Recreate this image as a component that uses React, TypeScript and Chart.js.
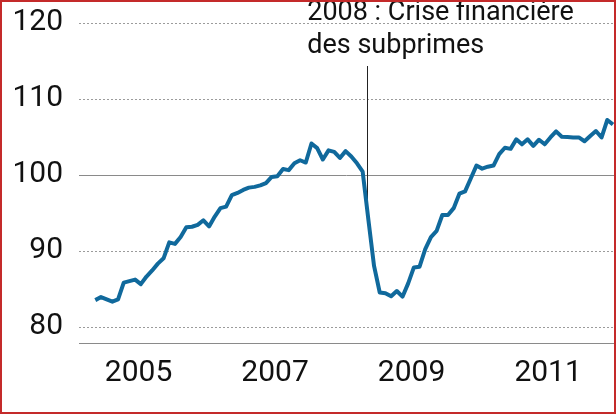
import { useEffect, useRef } from 'react';
import { Chart, registerables } from 'chart.js';

Chart.register(...registerables);

// Monthly index, first observation December 2004
const START_YEAR = 2004;
const START_MONTH = 12;

const indexValues = [
  83.5, 83.9, 83.6, 83.3, 83.6, 85.8, 86.0, 86.2, 85.6, 86.6,
  87.4, 88.3, 89.0, 91.1, 90.9, 91.8, 93.1, 93.15, 93.4, 94.0,
  93.2, 94.5, 95.6, 95.8, 97.3, 97.6, 98.0, 98.3, 98.4, 98.6,
  98.9, 99.7, 99.8, 100.75, 100.6, 101.5, 101.9, 101.6, 104.1, 103.5,
  102.0, 103.2, 103.0, 102.2, 103.1, 102.4, 101.5, 100.4, 94.1, 88.0,
  84.5, 84.4, 84.0, 84.7, 83.95, 85.7, 87.8, 87.9, 90.2, 91.8,
  92.6, 94.7, 94.7, 95.6, 97.5, 97.8, 99.5, 101.2, 100.8, 101.05,
  101.2, 102.7, 103.55, 103.4, 104.65, 104.0, 104.65, 103.8, 104.6, 104.0,
  104.9, 105.7, 105.0, 104.95, 104.9, 104.9, 104.4, 105.1, 105.75, 104.9,
  107.2, 106.6,
];

const yearLabels = ['2005', '2007', '2009', '2011'];
const yearTickYears = [2005, 2007, 2009, 2011];
const yTickValues = [80, 90, 100, 110, 120];
const referenceValue = 100;
const crisisDate = 2008.9;
const crisisLabel = ['2008 : Crise financière', 'des subprimes'];

const X_MIN = 2004.678;
const X_MAX = 2012.515;
const Y_MIN = 77.82;
const Y_MAX = 122.72;

const FONT = 'Roboto, "Noto Sans", sans-serif';

export default function App() {
  const canvasRef = useRef<HTMLCanvasElement | null>(null);

  useEffect(() => {
    const canvas = canvasRef.current;
    if (!canvas) return;

    const points = indexValues.map((v, i) => ({
      x: START_YEAR + (START_MONTH - 1 + i) / 12,
      y: v,
    }));

    const overlay = {
      id: 'overlay',
      beforeDatasetsDraw(chart: any) {
        const { ctx, chartArea, scales } = chart;
        const y = scales.y;
        const x = scales.x;
        ctx.save();
        ctx.lineWidth = 1;
        ctx.strokeStyle = '#9b9b9b';
        ctx.setLineDash([2, 2]);
        yTickValues.forEach((v) => {
          if (v === referenceValue) return;
          const py = Math.round(y.getPixelForValue(v)) + 0.5;
          ctx.beginPath();
          ctx.moveTo(chartArea.left, py);
          ctx.lineTo(chartArea.right, py);
          ctx.stroke();
        });
        ctx.setLineDash([]);
        ctx.strokeStyle = '#8a8a8a';
        const ry = Math.round(y.getPixelForValue(referenceValue)) + 0.5;
        ctx.beginPath();
        ctx.moveTo(chartArea.left, ry);
        ctx.lineTo(chartArea.right, ry);
        ctx.stroke();
        const cx = Math.round(x.getPixelForValue(crisisDate)) + 0.5;
        ctx.strokeStyle = '#222';
        ctx.beginPath();
        ctx.moveTo(cx, y.getPixelForValue(114.3));
        ctx.lineTo(cx, y.getPixelForValue(96));
        ctx.stroke();
        ctx.restore();
      },
      afterDraw(chart: any) {
        const { ctx, scales } = chart;
        const cx = scales.x.getPixelForValue(crisisDate);
        ctx.save();
        ctx.fillStyle = '#111';
        ctx.font = '27px ' + FONT;
        ctx.textAlign = 'left';
        ctx.textBaseline = 'alphabetic';
        crisisLabel.forEach((line, i) => {
          ctx.fillText(line, cx - 60, 18 + i * 33.3);
        });
        ctx.restore();
      },
    };

    const chart = new Chart(canvas, {
      type: 'line',
      data: {
        datasets: [
          {
            data: points,
            borderColor: '#10699c',
            borderWidth: 4,
            pointRadius: 0,
            tension: 0,
            borderJoinStyle: 'round',
            borderCapStyle: 'butt',
          },
        ],
      },
      options: {
        animation: false,
        responsive: false,
        maintainAspectRatio: false,
        devicePixelRatio: 1,
        layout: { padding: 0 },
        plugins: {
          legend: { display: false },
          tooltip: { enabled: false },
        },
        scales: {
          x: {
            type: 'linear',
            min: X_MIN,
            max: X_MAX,
            afterBuildTicks: (scale: any) => {
              scale.ticks = yearTickYears.map((yr) => ({ value: yr + 0.55 }));
            },
            afterFit: (scale: any) => {
              scale.height = 68.7;
              scale.paddingLeft = 0;
              scale.paddingRight = 0;
            },
            grid: { display: false, drawOnChartArea: false, drawTicks: false },
            border: { display: true, color: '#8a8a8a', width: 1 },
            ticks: {
              autoSkip: false,
              maxRotation: 0,
              minRotation: 0,
              padding: 12,
              color: '#111',
              font: { family: FONT, size: 30 },
              callback: (_v: any, i: number) => yearLabels[i],
            },
          },
          y: {
            type: 'linear',
            min: Y_MIN,
            max: Y_MAX,
            afterBuildTicks: (scale: any) => {
              scale.ticks = yTickValues.map((v) => ({ value: v }));
            },
            afterFit: (scale: any) => {
              scale.width = 77;
              scale.paddingTop = 0;
              scale.paddingBottom = 0;
            },
            grid: { display: false, drawOnChartArea: false, drawTicks: false },
            border: { display: false },
            ticks: {
              padding: 16,
              color: '#111',
              font: { family: FONT, size: 30 },
              callback: (v: any) => String(v),
            },
          },
        },
      },
      plugins: [overlay],
    } as any);

    return () => chart.destroy();
  }, []);

  return (
    <div
      style={{
        position: 'fixed',
        left: 0,
        top: 0,
        width: 616,
        height: 414,
        boxSizing: 'border-box',
        border: '2px solid #c42a2a',
        background: '#fff',
        overflow: 'hidden',
      }}
    >
      <canvas
        ref={canvasRef}
        width={612}
        height={410}
        style={{ display: 'block', width: 612, height: 410 }}
      />
    </div>
  );
}
